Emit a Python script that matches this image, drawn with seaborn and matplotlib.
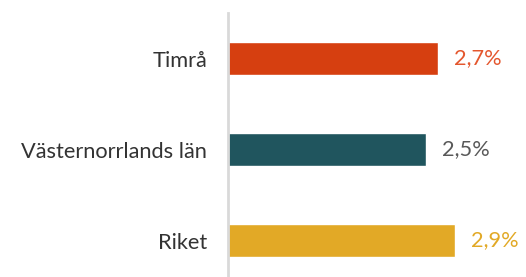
"""Horizontal bar chart: share per region."""

import matplotlib.pyplot as plt
import pandas as pd
import seaborn as sns

REGIONS = ["Timrå", "Västernorrlands län", "Riket"]
VALUES = [2.68, 2.53, 2.90]
BAR_COLORS = ["#D63F10", "#20555E", "#E2A926"]
LABEL_COLORS = ["#E4572E", "#595959", "#E2A926"]


def main():
    sns.set_style("white")
    plt.rcParams["font.family"] = ["Lato", "DejaVu Sans"]

    df = pd.DataFrame({"region": REGIONS, "value": VALUES})

    fig = plt.figure(figsize=(5.26, 2.77), dpi=100)
    ax = fig.add_axes([228 / 526, 0, 1 - 228 / 526, 1 - 13 / 277])
    sns.barplot(
        data=df, y="region", x="value", hue="region", palette=BAR_COLORS,
        width=0.36, legend=False, ax=ax, saturation=1,
    )

    ax.set_xlim(0, 298 / 78.3)
    ax.set_ylim(2.40, -0.5)
    ax.set_xlabel("")
    ax.set_ylabel("")
    ax.set_xticks([])
    for side in ["top", "right", "bottom"]:
        ax.spines[side].set_visible(False)
    ax.spines["left"].set_color("#D9D9D9")
    ax.spines["left"].set_linewidth(2)
    ax.tick_params(axis="y", length=0, pad=15, labelsize=15.7, labelcolor="#333333")

    for i, (val, col) in enumerate(zip(VALUES, LABEL_COLORS)):
        ax.text(val + 0.2, i, f"{val:.1f}%".replace(".", ","), color=col,
                va="center", ha="left", fontsize=15.7)

    fig.savefig("out.png", dpi=100)


if __name__ == "__main__":
    main()
